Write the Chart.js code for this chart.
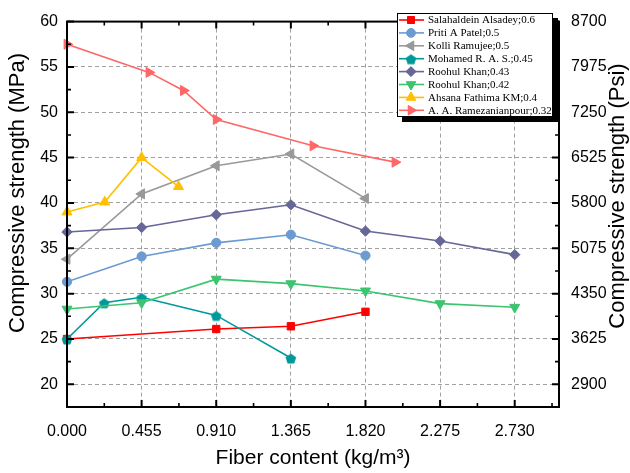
<!DOCTYPE html>
<html><head><meta charset="utf-8">
<script src="https://cdn.jsdelivr.net/npm/chart.js@4/dist/chart.umd.min.js"></script>
<style>html,body{margin:0;padding:0;background:#fff}#wrap{width:630px;height:473px}</style>
</head><body><div id="wrap"><canvas id="c" width="630" height="473"></canvas></div>
<script>
// ---- data ----
const seriesNames = ['Salahaldein Alsadey;0.6','Priti A Patel;0.5','Kolli Ramujee;0.5','Mohamed R. A. S.;0.45','Roohul Khan;0.43','Roohul Khan;0.42','Ahsana Fathima KM;0.4','A. A. Ramezanianpour;0.32'];
const salahX = [0, 0.91, 1.365, 1.82];
const salahY = [25.0, 26.1, 26.4, 28.0];
const pritiX = [0, 0.455, 0.91, 1.365, 1.82];
const pritiY = [31.3, 34.1, 35.6, 36.5, 34.2];
const kolliX = [0, 0.455, 0.91, 1.365, 1.82];
const kolliY = [33.8, 41.0, 44.1, 45.4, 40.5];
const mohamedX = [0, 0.227, 0.455, 0.91, 1.365];
const mohamedY = [25.0, 29.0, 29.6, 27.6, 22.9];
const roohul43X = [0, 0.455, 0.91, 1.365, 1.82, 2.275, 2.73];
const roohul43Y = [36.8, 37.3, 38.7, 39.8, 36.9, 35.8, 34.3];
const roohul42X = [0, 0.455, 0.91, 1.365, 1.82, 2.275, 2.73];
const roohul42Y = [28.3, 29.0, 31.6, 31.1, 30.3, 28.9, 28.5];
const ahsanaX = [0, 0.23, 0.455, 0.68];
const ahsanaY = [39.0, 40.1, 45.0, 41.8];
const ramezX = [0, 0.5, 0.71, 0.91, 1.5, 2.0];
const ramezY = [57.5, 54.4, 52.4, 49.2, 46.3, 44.5];
const xTicks = [0, 0.455, 0.91, 1.365, 1.82, 2.275, 2.73];
const yTicks = [20, 25, 30, 35, 40, 45, 50, 55, 60];
const psiTicks = [2900, 3625, 4350, 5075, 5800, 6525, 7250, 7975, 8700];

// ---- styles ----
const colors = ['#ff0000','#6b9bd1','#999999','#009999','#666699','#3cc46e','#ffc000','#ff6666'];
function pentagon(color, r){
  const s = Math.ceil(2*r+2); const c = document.createElement('canvas'); c.width = s; c.height = s;
  const g = c.getContext('2d'); g.fillStyle = color; g.beginPath();
  for (let k=0;k<5;k++){ const a=-Math.PI/2+k*2*Math.PI/5; const px=s/2+r*Math.cos(a), py=s/2+1+r*Math.sin(a); if(k) g.lineTo(px,py); else g.moveTo(px,py);} 
  g.closePath(); g.fill(); return c;
}
const markers = [
  {style:'rect', radius:5.2, rot:0},
  {style:'circle', radius:4.6, rot:0},
  {style:'triangle', radius:5.8, rot:-90},
  {style:pentagon('#009999',5.6), radius:5.5, rot:0},
  {style:'rectRot', radius:5.2, rot:0},
  {style:'triangle', radius:5.8, rot:180},
  {style:'triangle', radius:5.8, rot:0},
  {style:'triangle', radius:5.8, rot:90}
];
const xs = [salahX, pritiX, kolliX, mohamedX, roohul43X, roohul42X, ahsanaX, ramezX];
const ys = [salahY, pritiY, kolliY, mohamedY, roohul43Y, roohul42Y, ahsanaY, ramezY];
const datasets = seriesNames.map((n,i)=>({
  label:n,
  data: xs[i].map((x,k)=>({x:x,y:ys[i][k]})),
  borderColor: colors[i], backgroundColor: colors[i],
  pointBackgroundColor: colors[i], pointBorderColor: colors[i],
  borderWidth:1.6, pointBorderWidth:1,
  pointStyle: markers[i].style, pointRadius: markers[i].radius, pointRotation: markers[i].rot,
  showLine:true, tension:0, order: 10 - i, clip:false
}));

const FONT = 'Liberation Sans, Arial, sans-serif';

function drawMarker(ctx, i, x, y){
  const m = markers[i];
  if (typeof m.style !== 'string'){ ctx.drawImage(m.style, x - m.style.width/2, y - m.style.height/2); return; }
  Chart.helpers.drawPoint(ctx, {pointStyle:m.style, radius:m.radius*0.95, rotation:m.rot, borderWidth:1}, x, y);
  ctx.fill(); 
}

const framePlugin = {
  id:'frame',
  afterDraw(chart){
    const ctx = chart.ctx; const a = chart.chartArea;
    const sx = chart.scales.x, sy = chart.scales.y;
    ctx.save();
    ctx.strokeStyle = '#000'; ctx.lineWidth = 2;
    ctx.strokeRect(a.left, a.top, a.right - a.left, a.bottom - a.top);
    const xm = [];
    for (let k=0;k<xTicks.length;k++){ const next = k+1<xTicks.length ? xTicks[k+1] : xTicks[k] + (xTicks[k]-xTicks[k-1]); xm.push((xTicks[k]+next)/2); }
    ctx.beginPath();
    xTicks.forEach(v=>{ const p = sx.getPixelForValue(v); ctx.moveTo(p, a.bottom); ctx.lineTo(p, a.bottom-7); ctx.moveTo(p, a.top); ctx.lineTo(p, a.top+7); });
    yTicks.forEach(v=>{ const p = sy.getPixelForValue(v); ctx.moveTo(a.left, p); ctx.lineTo(a.left+7, p); ctx.moveTo(a.right, p); ctx.lineTo(a.right-7, p); });
    ctx.stroke();
    ctx.lineWidth = 1.6; ctx.beginPath();
    xm.forEach(v=>{ if (v >= sx.max) return; const p = sx.getPixelForValue(v); ctx.moveTo(p, a.bottom); ctx.lineTo(p, a.bottom-4); ctx.moveTo(p, a.top); ctx.lineTo(p, a.top+4); });
    const ym = [];
    for (let k=0;k<yTicks.length;k++){ const prev = k>0 ? yTicks[k-1] : yTicks[k] - (yTicks[k+1]-yTicks[k]); ym.push((yTicks[k]+prev)/2); }
    ym.forEach(v=>{ if (v <= sy.min) return; const p = sy.getPixelForValue(v); ctx.moveTo(a.left, p); ctx.lineTo(a.left+4, p); ctx.moveTo(a.right, p); ctx.lineTo(a.right-4, p); });
    ctx.stroke();
    // right title
    ctx.fillStyle = '#000'; ctx.font = '22px ' + FONT; ctx.textAlign = 'center'; ctx.textBaseline = 'middle';
    ctx.translate(618, 196); ctx.rotate(-Math.PI/2); ctx.fillText('Compressive strength (Psi)', 0, 0);
    ctx.restore();
    // legend
    ctx.save();
    const L = 397, T = 13, R = 553, B = 117;
    ctx.fillStyle = '#000'; ctx.fillRect(L+5, T+5, R-L, B-T);
    ctx.fillStyle = '#fff'; ctx.fillRect(L, T, R-L, B-T);
    ctx.strokeStyle = '#000'; ctx.lineWidth = 1; ctx.strokeRect(L+0.5, T+0.5, R-L-1, B-T-1);
    ctx.font = '11px "Liberation Serif", "Times New Roman", serif'; ctx.textAlign = 'left'; ctx.textBaseline = 'middle';
    seriesNames.forEach((n,i)=>{
      const y = 20 + i*12.9;
      ctx.strokeStyle = colors[i]; ctx.lineWidth = 1.6; ctx.beginPath(); ctx.moveTo(399, y); ctx.lineTo(424, y); ctx.stroke();
      ctx.fillStyle = colors[i]; ctx.strokeStyle = colors[i]; ctx.lineWidth = 1;
      drawMarker(ctx, i, 411, y);
      ctx.fillStyle = '#000'; ctx.fillText(n, 428, y+0.5);
    });
    ctx.restore();
  }
};

new Chart(document.getElementById('c'), {
  type:'scatter',
  data:{datasets},
  options:{
    responsive:false, animation:false,
    layout:{padding:{top:13,left:0,right:0,bottom:0}},
    plugins:{legend:{display:false}, tooltip:{enabled:false}},
    scales:{
      x:{type:'linear', position:'bottom', min:0, max:3.0,
        afterFit(s){ s.height = 66; },
        afterBuildTicks(s){ s.ticks = xTicks.map(v=>({value:v})); },
        ticks:{callback:v=>Number(v).toFixed(3), font:{family:FONT,size:16}, color:'#000', padding:15, maxRotation:0, autoSkip:false},
        grid:{color:'#a0a0a0', lineWidth:1, drawTicks:false},
        border:{display:false, dash:[4,3]},
        title:{display:true, text:'Fiber content (kg/m³)', font:{family:FONT,size:21}, color:'#000', padding:{top:0,bottom:2}}
      },
      y:{type:'linear', position:'left', min:17.5, max:60,
        afterFit(s){ s.width = 67; },
        afterBuildTicks(s){ s.ticks = yTicks.map(v=>({value:v})); },
        ticks:{font:{family:FONT,size:16}, color:'#000', padding:9, autoSkip:false},
        grid:{color:'#a0a0a0', lineWidth:1, drawTicks:false},
        border:{display:false, dash:[4,3]},
        title:{display:false}
      },
      y2:{type:'linear', position:'right', min:17.5*145, max:60*145,
        afterFit(s){ s.width = 71; },
        afterBuildTicks(s){ s.ticks = psiTicks.map(v=>({value:v})); },
        ticks:{callback:v=>String(v), font:{family:FONT,size:16}, color:'#000', padding:12, autoSkip:false},
        grid:{display:false, drawTicks:false},
        border:{display:false}
      }
    }
  },
  plugins:[framePlugin, {
    id:'ytitle',
    afterDraw(chart){
      const ctx = chart.ctx; ctx.save();
      ctx.fillStyle = '#000'; ctx.font = '22px ' + FONT; ctx.textAlign = 'center'; ctx.textBaseline = 'middle';
      ctx.translate(18, 193); ctx.rotate(-Math.PI/2); ctx.fillText('Compressive strength (MPa)', 0, 0);
      ctx.restore();
    }
  }]
});
</script></body></html>
